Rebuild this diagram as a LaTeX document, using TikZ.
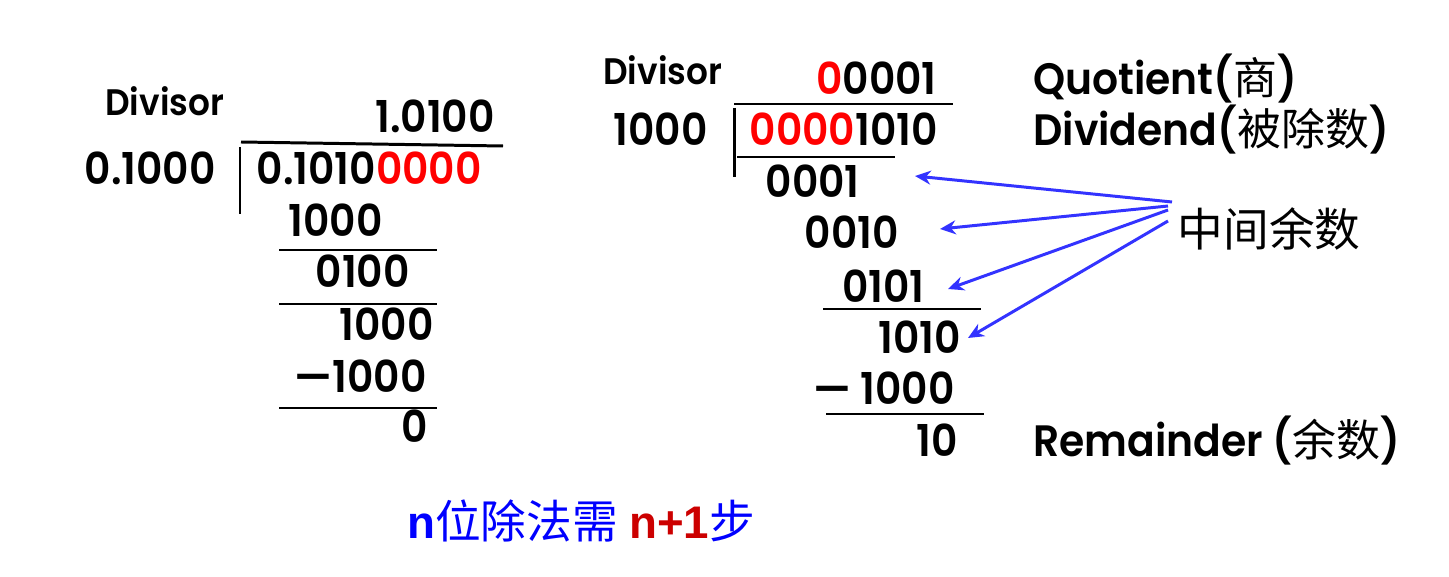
\documentclass[tikz,border=0pt]{standalone}
\usepackage{fontspec}
\usepackage{xcolor}
\setmainfont{Poppins}[BoldFont={Poppins SemiBold}, FakeStretch=0.93]
\newfontfamily\cjk{Noto Sans CJK SC}
\newfontfamily\arialfont{Liberation Sans}
\usetikzlibrary{arrows.meta}
\definecolor{padred}{RGB}{255,0,0}
\definecolor{remblue}{RGB}{51,51,255}
\definecolor{noteblue}{RGB}{0,0,255}
\definecolor{notered}{RGB}{204,0,0}
\newcommand{\zh}[1]{{\cjk\mdseries #1}}

\begin{document}
\begin{tikzpicture}[
    x=0.02cm, y=-0.02cm,
    >=Stealth,
    num/.style={anchor=base east, inner sep=0pt, font=\fontsize{25}{30}\selectfont\bfseries},
    tag/.style={anchor=base west, inner sep=0pt, font=\fontsize{21}{26}\selectfont\bfseries},
    term/.style={anchor=base west, inner sep=0pt, font=\fontsize{25}{30}\selectfont\bfseries},
    rule/.style={line width=1.7pt},
    arrow/.style={-{Stealth[length=9pt, width=8pt]}, remblue, line width=1.7pt}
]
\useasboundingbox (0,0) rectangle (1449,577);

% Decimal division (left)
\node[tag] (divisorL) at (105,116) {Divisor};
\node[num] (quotL) at (495,133) {1.0100};
\node[num] (divsrL) at (216,185) {0.1000};
\node[num] (dvdL) at (482,185) {0.1010\textcolor{padred}{0000}};
\node[num] (remL1) at (383,237) {1000};
\node[num] (remL2) at (410,288) {0100};
\node[num] (remL3) at (434,340) {1000};
\node[num] (remL4) at (427,392) {—1000};
\node[num] (remL5) at (428,442) {0};

\draw[rule] (241,142) -- (503,146);
\draw[rule] (240,147) -- (240,214);
\draw[rule] (279,250) -- (437,250);
\draw[rule] (279,304) -- (437,304);
\draw[rule] (279,408) -- (437,408);

% Integer division (right)
\node[tag] (divisorR) at (603,85) {Divisor};
\node[num] (quotR) at (937,95) {\textcolor{padred}{0}0001};
\node[num] (divsrR) at (708,146) {1000};
\node[num] (dvdR) at (938,146) {\textcolor{padred}{0000}1010};
\node[num] (stepR1) at (860,198) {0001};
\node[num] (stepR2) at (899,249) {0010};
\node[num] (stepR3) at (925,302) {0101};
\node[num] (stepR4) at (961,353) {1010};
\node[num] (stepR5) at (955,404) {— 1000};
\node[num] (stepR6) at (958,456) {10};

\draw[rule] (734,104) -- (953,104);
\draw[rule] (734,108) -- (734,177);
\draw[rule] (737,157) -- (895,157);
\draw[rule] (823,309) -- (981,309);
\draw[rule] (826,414) -- (984,414);

% Labels
\node[term] (quotLabel) at (1033,95) {Quotient(\zh{商})};
\node[term] (dvdLabel) at (1033,146) {Dividend(\zh{被除数})};
\node[term] (remLabel) at (1033,456) {Remainder (\zh{余数})};
\node[inner sep=0pt, font=\fontsize{26}{30}\selectfont\cjk] (midLabel) at (1269,229) {中间余数};

% Arrows to the partial remainders
\coordinate (fan1) at (1172,202);
\coordinate (fan2) at (1168,206);
\coordinate (fan3) at (1168,210);
\coordinate (fan4) at (1168,221);
\coordinate (tip1) at (915,176);
\coordinate (tip2) at (940,229);
\coordinate (tip3) at (948,289);
\coordinate (tip4) at (968,338);
\draw[arrow] (fan1) -- (tip1);
\draw[arrow] (fan2) -- (tip2);
\draw[arrow] (fan3) -- (tip3);
\draw[arrow] (fan4) -- (tip4);

% Note
\node[inner sep=0pt, font=\fontsize{26}{30}\selectfont, text=noteblue] (note) at (581,521)
    {{\arialfont\bfseries n}\zh{位除法需} {\arialfont\bfseries\color{notered}n+1}\zh{步}};

\end{tikzpicture}
\end{document}
